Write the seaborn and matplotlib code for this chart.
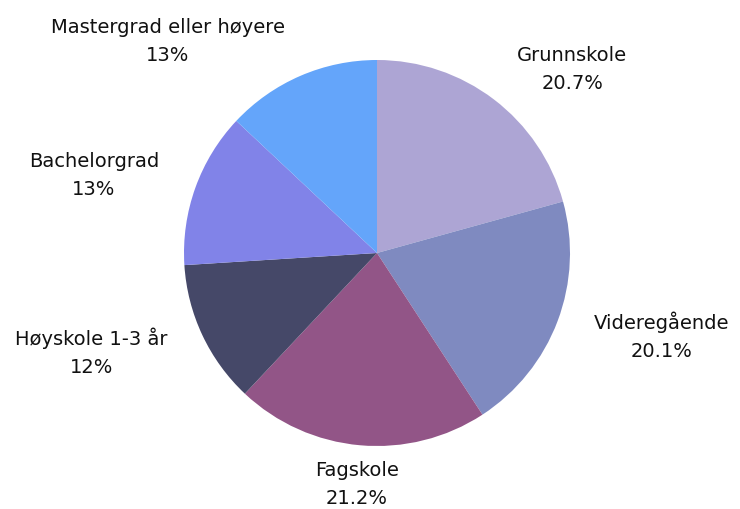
import numpy as np
import matplotlib
matplotlib.use("Agg")
import matplotlib.pyplot as plt
import seaborn as sns

categories = ["Grunnskole", "Videregående", "Fagskole", "Høyskole 1-3 år", "Bachelorgrad", "Mastergrad eller høyere"]
values = [20.7, 20.1, 21.2, 12, 13, 13]
colors = ["#ADA5D4", "#7F8AC0", "#925587", "#454868", "#8183E8", "#64A5FA"]

sns.set_theme(style="white")
plt.rcParams['font.family'] = ['DejaVu Sans']

fig = plt.figure(figsize=(7.4, 5.1), dpi=100)
ax = fig.add_axes([0, 0, 1, 1])
R = 193.0
cx, cy = 377.0, 510 - 254.0

wedges, _ = ax.pie(values, colors=colors, startangle=90, counterclock=False,
                   radius=1.0, wedgeprops=dict(linewidth=0))
ax.set_xlim(-cx / R, (740 - cx) / R)
ax.set_ylim(-cy / R, (510 - cy) / R)
ax.set_aspect("auto")
ax.axis("off")

for w, cat, v in zip(wedges, categories, values):
    ang = np.deg2rad((w.theta1 + w.theta2) / 2)
    x, y = np.cos(ang), np.sin(ang)
    d = 1.2
    ha = "left" if x > 0.3 else ("right" if x < -0.3 else "center")
    ax.text(d * x, d * y, f"{cat}\n{v:g}%", ha=ha, va="center", multialignment="center",
            fontsize=14, color="#111111", linespacing=1.6)

fig.savefig("out.png", dpi=100)
